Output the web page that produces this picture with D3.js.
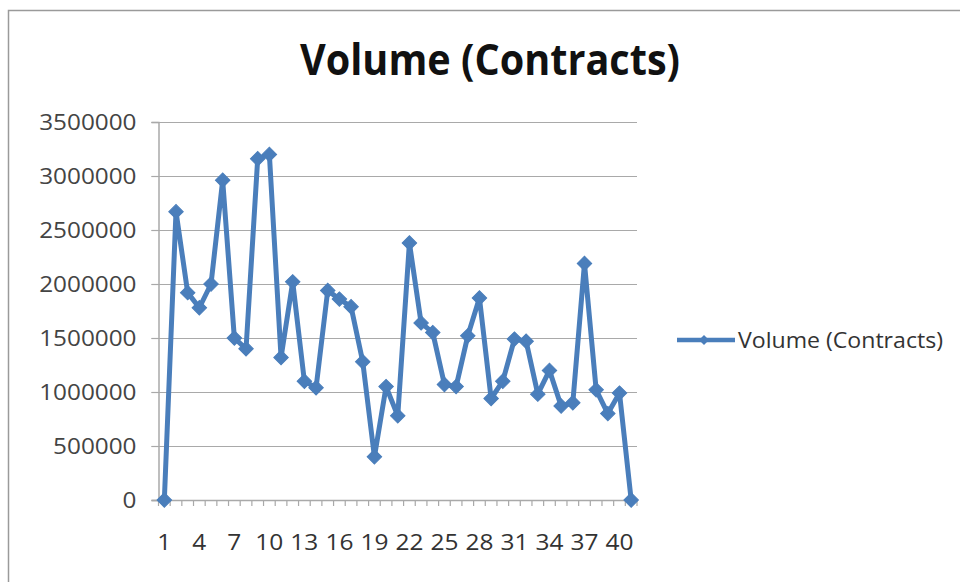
<!DOCTYPE html>
<html>
<head>
<meta charset="utf-8">
<script src="https://cdn.jsdelivr.net/npm/d3@7"></script>
<style>
  html, body { margin: 0; padding: 0; background: #ffffff; }
  svg { display: block; }
  text { font-family: "Open Sans", "DejaVu Sans", sans-serif; }
</style>
</head>
<body>
<svg id="chart" width="960" height="582"></svg>
<script>
// Daily contract volume, one point per session
const categories = [1, 2, 3, 4, 5, 6, 7, 8, 9, 10, 11, 12, 13, 14, 15, 16, 17, 18, 19, 20,
                    21, 22, 23, 24, 25, 26, 27, 28, 29, 30, 31, 32, 33, 34, 35, 36, 37, 38, 39, 40, 41];
const volume = [0, 2670000, 1920000, 1780000, 2000000, 2960000, 1500000, 1400000, 3160000, 3200000,
                1320000, 2020000, 1100000, 1040000, 1940000, 1860000, 1790000, 1280000, 400000, 1050000,
                780000, 2380000, 1640000, 1550000, 1070000, 1050000, 1520000, 1870000, 940000, 1100000,
                1490000, 1470000, 980000, 1200000, 870000, 900000, 2190000, 1020000, 800000, 990000, 0];
const yTicks = [0, 500000, 1000000, 1500000, 2000000, 2500000, 3000000, 3500000];
const xTickLabels = [1, 4, 7, 10, 13, 16, 19, 22, 25, 28, 31, 34, 37, 40];
const seriesName = "Volume (Contracts)";
const chartTitle = "Volume (Contracts)";

const svg = d3.select("#chart");
const lineColor = "#4a7ebb";
const gridColor = "#a9a9a9";

// chart frame
svg.append("path")
  .attr("d", "M8.5,582 L8.5,10.5 L960,10.5")
  .attr("fill", "none")
  .attr("stroke", "#9a9a9a")
  .attr("stroke-width", 1.5);

const plot = { left: 158.5, right: 637, top: 122, bottom: 500 };

const x = d3.scaleBand()
  .domain(categories)
  .range([plot.left, plot.right])
  .padding(0);

const y = d3.scaleLinear()
  .domain([0, 3500000])
  .range([plot.bottom, plot.top]);

const cx = d => x(d) + x.bandwidth() / 2;

// horizontal gridlines with left tick marks
svg.append("g")
  .selectAll("line")
  .data(yTicks.filter(t => t > 0))
  .join("line")
  .attr("x1", plot.left - 7)
  .attr("x2", plot.right)
  .attr("y1", d => Math.round(y(d)) + 0.5)
  .attr("y2", d => Math.round(y(d)) + 0.5)
  .attr("stroke", gridColor)
  .attr("stroke-width", 1.2);

// y axis
const yAxis = d3.axisLeft(y)
  .tickValues(yTicks)
  .tickSize(7)
  .tickPadding(15)
  .tickFormat(d3.format("d"));
const gy = svg.append("g")
  .attr("transform", `translate(${plot.left},0)`)
  .call(yAxis);
gy.select(".domain").attr("stroke", gridColor).attr("stroke-width", 1.5);
gy.selectAll(".tick line").attr("stroke", gridColor).attr("stroke-width", 1.2);
gy.selectAll(".tick text")
  .attr("fill", "#444")
  .style("font-size", "22px")
  .attr("textLength", d => String(d).length * 13.9)
  .attr("lengthAdjust", "spacingAndGlyphs");

// x axis: tick marks sit on category boundaries
const boundaries = categories.map(c => x(c)).concat([plot.right]);
svg.append("line")
  .attr("x1", plot.left - 7).attr("x2", plot.right)
  .attr("y1", y(0) + 0.5).attr("y2", y(0) + 0.5)
  .attr("stroke", gridColor).attr("stroke-width", 1.5);
svg.append("g")
  .selectAll("line")
  .data(boundaries)
  .join("line")
  .attr("x1", d => d).attr("x2", d => d)
  .attr("y1", y(0)).attr("y2", y(0) + 6)
  .attr("stroke", gridColor).attr("stroke-width", 1.2);

svg.append("g")
  .selectAll("text")
  .data(xTickLabels)
  .join("text")
  .attr("x", d => cx(d))
  .attr("y", 544)
  .attr("text-anchor", "middle")
  .attr("dominant-baseline", "middle")
  .attr("fill", "#333")
  .style("font-size", "22px")
  .attr("textLength", d => String(d).length * 14)
  .attr("lengthAdjust", "spacingAndGlyphs")
  .text(d => d);

// series line
const line = d3.line()
  .x((d, i) => cx(categories[i]))
  .y(d => y(d));

svg.append("path")
  .datum(volume)
  .attr("d", line)
  .attr("fill", "none")
  .attr("stroke", lineColor)
  .attr("stroke-width", 5)
  .attr("stroke-linejoin", "round");

// diamond markers: squares turned 45 degrees
const marker = d3.symbol().type(d3.symbolSquare).size(105);
svg.append("g")
  .selectAll("path")
  .data(volume)
  .join("path")
  .attr("transform", (d, i) => `translate(${cx(categories[i])},${y(d)}) rotate(45)`)
  .attr("d", marker)
  .attr("fill", lineColor)
  .attr("stroke", lineColor)
  .attr("stroke-width", 1);

// title
svg.append("text")
  .attr("x", 490)
  .attr("y", 75)
  .attr("text-anchor", "middle")
  .attr("fill", "#111")
  .style("font-size", "43px")
  .style("font-weight", "bold")
  .attr("textLength", 380)
  .attr("lengthAdjust", "spacingAndGlyphs")
  .text(chartTitle);

// legend
const legend = svg.append("g").attr("transform", "translate(677,340)");
legend.append("line")
  .attr("x1", 0).attr("x2", 58)
  .attr("y1", 0).attr("y2", 0)
  .attr("stroke", lineColor).attr("stroke-width", 4.5);
legend.append("path")
  .attr("transform", "translate(27,0) rotate(45)")
  .attr("d", d3.symbol().type(d3.symbolSquare).size(50))
  .attr("fill", lineColor);
legend.append("text")
  .attr("x", 61)
  .attr("y", 8)
  .attr("fill", "#333")
  .style("font-size", "22px")
  .attr("textLength", 205)
  .attr("lengthAdjust", "spacingAndGlyphs")
  .text(seriesName);
</script>
</body>
</html>
